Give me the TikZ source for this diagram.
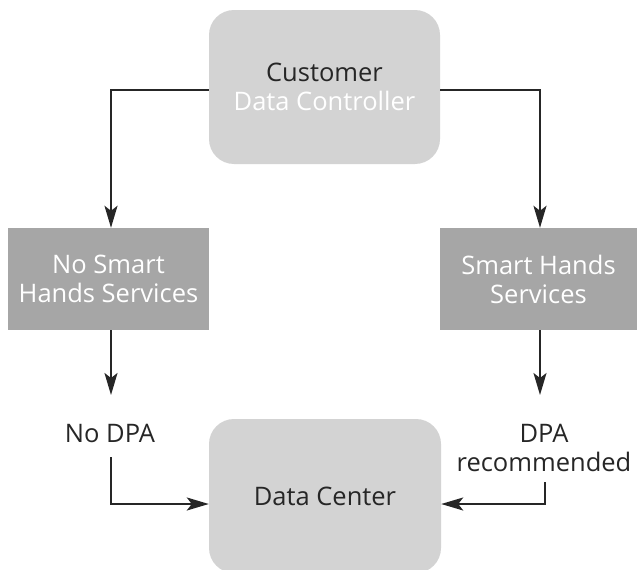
\documentclass[tikz,border=0pt]{standalone}
\usepackage{fontspec}
\setmainfont{Open Sans}
\usetikzlibrary{arrows.meta}
\definecolor{lightbox}{HTML}{D3D3D3}
\definecolor{darkbox}{HTML}{A6A6A6}
\definecolor{ink}{HTML}{262626}
\begin{document}
\begin{tikzpicture}[x=1pt,y=-1pt,
  font=\fontsize{25.5}{29}\selectfont,
  roundbox/.style={fill=lightbox, rounded corners=25pt, draw=none, text=ink, align=center, inner sep=0pt},
  sidebox/.style={fill=darkbox, draw=none, text=white, align=center, inner sep=0pt, minimum height=102pt},
  lbl/.style={text=ink, align=center, inner sep=0pt},
  arr/.style={draw=ink, line width=2pt, -{Stealth[length=22pt, width=13pt, inset=5pt]}}]
\clip (0,0) rectangle (638,570);
\node[roundbox, minimum width=231pt, minimum height=154pt] (cust) at (324.5,87) {Customer\\\textcolor{white}{Data Controller}};
\node[sidebox, minimum width=201pt] (left) at (108.5,279) {No Smart\\Hands Services};
\node[sidebox, minimum width=197pt] (right) at (538.5,279) {Smart Hands\\Services};
\node[roundbox, minimum width=232pt, minimum height=154pt] (dc) at (325,496) {Data Center};
\node[lbl] (nodpa) at (110,433) {No DPA};
\node[lbl] (dpa) at (544,448) {DPA\\recommended};
\coordinate (ltop) at (111,395);
\coordinate (rtop) at (540,395);
\coordinate (lstart) at (111,457);
\coordinate (rstart) at (545,482);
\draw[arr] ([yshift=-3pt]cust.west) -| ([xshift=2.5pt]left.north);
\draw[arr] ([yshift=-3pt]cust.east) -| ([xshift=1.5pt]right.north);
\draw[arr] ([xshift=2.5pt]left.south) -- (ltop);
\draw[arr] ([xshift=1.5pt]right.south) -- (rtop);
\draw[arr] (lstart) |- ([yshift=-8pt]dc.west);
\draw[arr] (rstart) |- ([yshift=-8pt]dc.east);
\end{tikzpicture}
\end{document}
